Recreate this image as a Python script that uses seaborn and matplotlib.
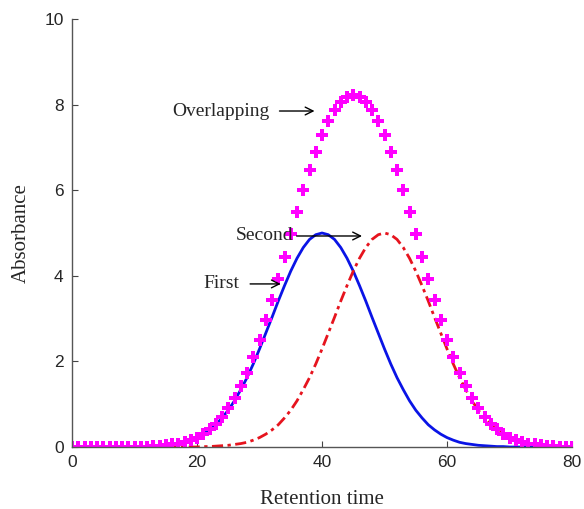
import matplotlib
matplotlib.use("Agg")
import matplotlib.pyplot as plt
import seaborn as sns
import pandas as pd

# Retention time grid (x values)
time = list(range(0, 81))

# First peak (blue solid)
first = [0.00]*11 + [0.01, 0.01, 0.02, 0.03, 0.04, 0.06, 0.08, 0.11, 0.16, 0.22,
         0.30, 0.40, 0.52, 0.68, 0.86, 1.08, 1.34, 1.62, 1.94, 2.29,
         2.66, 3.03, 3.41, 3.77, 4.11, 4.41, 4.66, 4.85, 4.96, 5.00,
         4.96, 4.85, 4.66, 4.41, 4.11, 3.77, 3.41, 3.03, 2.66, 2.29,
         1.94, 1.62, 1.34, 1.08, 0.86, 0.68, 0.52, 0.40, 0.30, 0.22,
         0.16, 0.11, 0.08, 0.06, 0.04, 0.03, 0.02, 0.01, 0.01, 0.00] + [0.00]*10

# Second peak (red dash-dot)
second = [0.00]*21 + [0.01, 0.01, 0.02, 0.03, 0.04, 0.06, 0.08, 0.11, 0.16, 0.22,
          0.30, 0.40, 0.52, 0.68, 0.86, 1.08, 1.34, 1.62, 1.94, 2.29,
          2.66, 3.03, 3.41, 3.77, 4.11, 4.41, 4.66, 4.85, 4.96, 5.00,
          4.96, 4.85, 4.66, 4.41, 4.11, 3.77, 3.41, 3.03, 2.66, 2.29,
          1.94, 1.62, 1.34, 1.08, 0.86, 0.68, 0.52, 0.40, 0.30, 0.22,
          0.16, 0.11, 0.08, 0.06, 0.04, 0.03, 0.02, 0.01, 0.01, 0.00]

# Overlapping signal (magenta markers)
overlap = [0.00]*11 + [0.01, 0.01, 0.02, 0.03, 0.04, 0.06, 0.08, 0.11, 0.16, 0.22,
           0.31, 0.41, 0.54, 0.71, 0.90, 1.14, 1.42, 1.73, 2.10, 2.51,
           2.96, 3.43, 3.93, 4.45, 4.97, 5.49, 6.00, 6.47, 6.90, 7.29,
           7.62, 7.88, 8.07, 8.18, 8.22, 8.18, 8.07, 7.88, 7.62, 7.29,
           6.90, 6.47, 6.00, 5.49, 4.97, 4.45, 3.93, 3.43, 2.96, 2.51,
           2.10, 1.73, 1.42, 1.14, 0.90, 0.71, 0.54, 0.41, 0.31, 0.22,
           0.16, 0.11, 0.08, 0.06, 0.04, 0.03, 0.02, 0.01, 0.01, 0.00]

xticks = [0, 20, 40, 60, 80]
yticks = [0, 2, 4, 6, 8, 10]

df = pd.DataFrame({"time": time, "first": first, "second": second, "overlap": overlap})

sns.set_theme(style="ticks")
plt.rcParams["font.family"] = ["Liberation Sans", "DejaVu Sans"]

fig = plt.figure(figsize=(5.84, 5.09), dpi=100)
ax = fig.add_axes([0.1233, 0.1218, 0.8562, 0.8409])

sns.lineplot(data=df, x="time", y="first", ax=ax, color="#0a14e6", linewidth=2.0)
sns.lineplot(data=df, x="time", y="second", ax=ax, color="#e6141e", linewidth=2.0,
             linestyle=(0, (4, 1.6, 1.2, 1.6)))
sns.lineplot(data=df, x="time", y="overlap", ax=ax, color="#ff00ff", linestyle="none",
             marker="P", markersize=8, markeredgewidth=0)

ax.set_xlim(0, 80)
ax.set_ylim(0, 10)
ax.set_xticks(xticks)
ax.set_yticks(yticks)
ax.set_xticklabels([str(t) for t in xticks], fontsize=12.5)
ax.set_yticklabels([str(t) for t in yticks], fontsize=12.5)
ax.tick_params(direction="in", length=4, width=0.8, color="#444444", pad=6)
for s in ["top", "right"]:
    ax.spines[s].set_visible(False)
for s in ["left", "bottom"]:
    ax.spines[s].set_color("#555555")
    ax.spines[s].set_linewidth(1.0)

serif = ["Liberation Serif", "DejaVu Serif"]
ax.set_xlabel("Retention time", fontsize=15, family=serif, labelpad=14)
ax.set_ylabel("Absorbance", fontsize=15, family=serif, labelpad=10)

arrow = dict(arrowstyle="->", color="black", lw=1.0)
ax.annotate("Overlapping", xy=(38.8, 7.85), xytext=(16.0, 7.85), fontsize=14, family=serif,
            va="center", ha="left", arrowprops=dict(arrow, shrinkA=5, shrinkB=0))
ax.annotate("Second", xy=(46.4, 4.93), xytext=(26.2, 4.93), fontsize=14, family=serif,
            va="center", ha="left", arrowprops=dict(arrow, shrinkA=0, shrinkB=0))
ax.annotate("First", xy=(33.4, 3.81), xytext=(21.1, 3.81), fontsize=14, family=serif,
            va="center", ha="left", arrowprops=dict(arrow, shrinkA=5, shrinkB=0))

fig.savefig("out.png", dpi=100)
